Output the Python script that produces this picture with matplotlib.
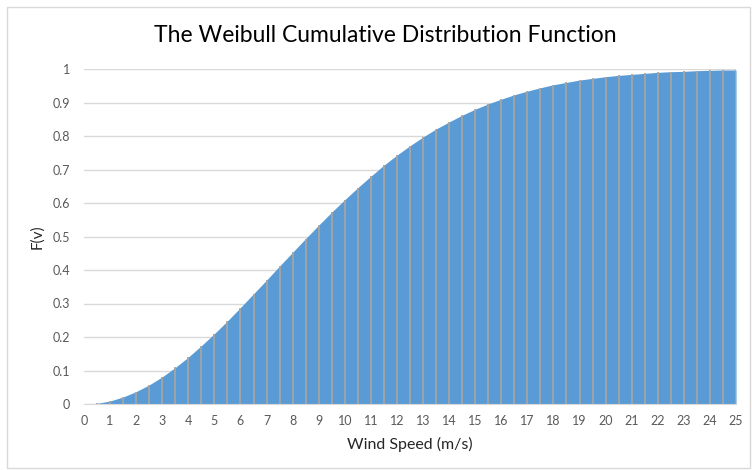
import numpy as np
import matplotlib.pyplot as plt
from matplotlib.patches import Rectangle

# wind speed samples (m/s) and cumulative probability F(v)
wind_speed = [0, 0.5, 1, 1.5, 2, 2.5, 3, 3.5, 4, 4.5, 5, 5.5, 6, 6.5, 7, 7.5,
              8, 8.5, 9, 9.5, 10, 10.5, 11, 11.5, 12, 12.5, 13, 13.5, 14, 14.5,
              15, 15.5, 16, 16.5, 17, 17.5, 18, 18.5, 19, 19.5, 20, 20.5, 21,
              21.5, 22, 22.5, 23, 23.5, 24, 24.5, 25]
cdf = [0.000, 0.002, 0.009, 0.021, 0.037, 0.057, 0.081, 0.109, 0.140, 0.174,
       0.210, 0.248, 0.288, 0.329, 0.370, 0.412, 0.453, 0.494, 0.534, 0.573,
       0.610, 0.646, 0.680, 0.713, 0.743, 0.771, 0.797, 0.821, 0.842, 0.862,
       0.880, 0.896, 0.910, 0.923, 0.934, 0.944, 0.953, 0.960, 0.967, 0.972,
       0.977, 0.981, 0.984, 0.987, 0.990, 0.992, 0.993, 0.995, 0.996, 0.997,
       0.997]
x_ticks = list(range(0, 26))
y_ticks = [0, 0.1, 0.2, 0.3, 0.4, 0.5, 0.6, 0.7, 0.8, 0.9, 1]
y_labels = ['0', '0.1', '0.2', '0.3', '0.4', '0.5', '0.6', '0.7', '0.8', '0.9', '1']

plt.rcParams['font.family'] = ['Lato', 'DejaVu Sans']

fig = plt.figure(figsize=(7.52, 4.70), dpi=100)
ax = fig.add_axes([84 / 752, 1 - 404 / 470, 652 / 752, 335 / 470])

# outer chart frame
fig.patches.append(Rectangle((7 / 752, 2 / 470), 743 / 752, 461 / 470,
                             transform=fig.transFigure, fill=False,
                             edgecolor='#d9d9d9', linewidth=1))

ax.fill_between(wind_speed, cdf, 0, color='#5b9bd5', linewidth=0, zorder=2)
ax.vlines(wind_speed[1:], 0, cdf[1:], color='#a5a5a5', linewidth=1.3, zorder=3)

ax.set_xlim(0, 25)
ax.set_ylim(0, 1)
ax.set_xticks(x_ticks)
ax.set_yticks(y_ticks)
ax.set_yticklabels(y_labels)
ax.tick_params(length=0, labelsize=9, labelcolor='#595959')
ax.tick_params(axis='y', pad=10)
ax.tick_params(axis='x', pad=8)
ax.grid(axis='y', color='#d9d9d9', linewidth=1, zorder=0)
ax.set_axisbelow(True)
for side in ['top', 'right', 'left']:
    ax.spines[side].set_visible(False)
ax.spines['bottom'].set_color('#d9d9d9')

ax.set_xlabel('Wind Speed (m/s)', fontsize=11.5, color='#262626', labelpad=7)
ax.set_ylabel('F(v)', fontsize=11, color='#262626', labelpad=6)
fig.text(385 / 752, 1 - 35 / 470, 'The Weibull Cumulative Distribution Function',
         ha='center', va='center', fontsize=16.5, color='#000000')

fig.savefig('out.png', dpi=100)
